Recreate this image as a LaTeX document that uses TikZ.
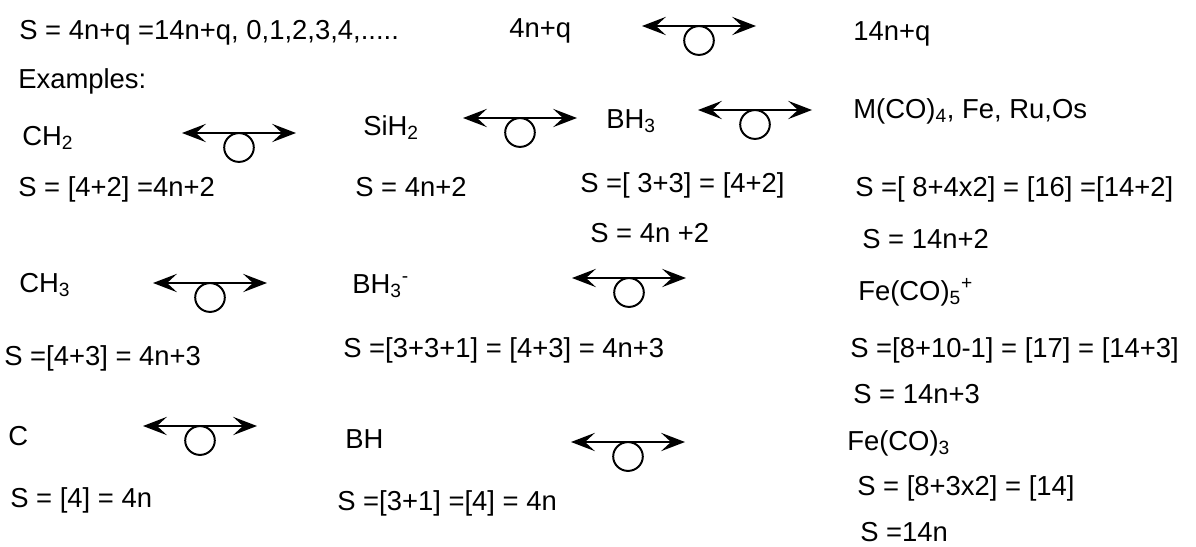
\documentclass[tikz,border=0pt]{standalone}
\usepackage{fontspec}
\setmainfont{Liberation Sans}
\usetikzlibrary{arrows.meta}
\tikzset{
  lbl/.style={anchor=base west,inner sep=0pt,font=\fontsize{19.5}{23}\selectfont},
  iso/.style={{Stealth[length=17pt,width=13pt,inset=7pt]}-{Stealth[length=17pt,width=13pt,inset=7pt]},line width=1.4pt},
  ring/.style={line width=1.4pt}
}
\newcommand{\lo}[1]{\textsubscript{#1}}
\newcommand{\hi}[1]{\textsuperscript{#1}}
\begin{document}
\begin{tikzpicture}[x=0.025cm,y=-0.025cm]
  \useasboundingbox (0,0) rectangle (1196,546);
  \node[lbl] (gen) at (19,39) {S = 4n+q =14n+q, 0,1,2,3,4,.....};
  \node[lbl] (gl) at (509,37) {4n+q};
  \node[lbl] (gr) at (853,40) {14n+q};
  \node[lbl] (ex) at (18,88) {Examples:};
  \node[lbl] (ch2) at (22,145) {CH\lo{2}};
  \node[lbl] (sih2) at (363,135) {SiH\lo{2}};
  \node[lbl] (bh3) at (606,128) {BH\lo{3}};
  \node[lbl] (mco4) at (853,118) {M(CO)\lo{4}, Fe, Ru,Os};
  \node[lbl] (s1a) at (18,196) {S = [4+2] =4n+2};
  \node[lbl] (s1b) at (355,196) {S = 4n+2};
  \node[lbl] (s1c) at (580,192) {S =[ 3+3] = [4+2]};
  \node[lbl] (s1d) at (855,196) {S =[ 8+4x2] = [16] =[14+2]};
  \node[lbl] (s1e) at (590,242) {S = 4n +2};
  \node[lbl] (s1f) at (862,248) {S = 14n+2};
  \node[lbl] (ch3) at (19,292) {CH\lo{3}};
  \node[lbl] (bh3m) at (352,293) {BH\lo{3}\hi{-}};
  \node[lbl] (feco5) at (858,300) {Fe(CO)\lo{5}\hi{+}};
  \node[lbl] (s2a) at (4,365) {S =[4+3] = 4n+3};
  \node[lbl] (s2b) at (343,357) {S =[3+3+1] = [4+3] = 4n+3};
  \node[lbl] (s2c) at (850,357) {S =[8+10-1] = [17] = [14+3]};
  \node[lbl] (s2d) at (853,403) {S = 14n+3};
  \node[lbl] (c) at (8,445) {C};
  \node[lbl] (bh) at (345,448) {BH};
  \node[lbl] (feco3) at (847,450) {Fe(CO)\lo{3}};
  \node[lbl] (s3a) at (10,507) {S = [4] = 4n};
  \node[lbl] (s3b) at (337,510) {S =[3+1] =[4] = 4n};
  \node[lbl] (s3c) at (857,495) {S = [8+3x2] = [14]};
  \node[lbl] (s3d) at (860,541) {S =14n};
  \foreach \n/\x/\y in {0/642/26,1/182/133,2/463/118,3/698/110,4/153/283,5/572/278,6/143/426,7/571/442} {
    \coordinate (l\n) at (\x,\y);
    \coordinate (r\n) at (\x+114,\y);
    \coordinate (o\n) at (\x+57,\y+14.5);
    \draw[iso] (l\n) -- (r\n);
    \draw[ring] (o\n) circle[x radius=0.37cm,y radius=0.36cm];
  }
\end{tikzpicture}
\end{document}
